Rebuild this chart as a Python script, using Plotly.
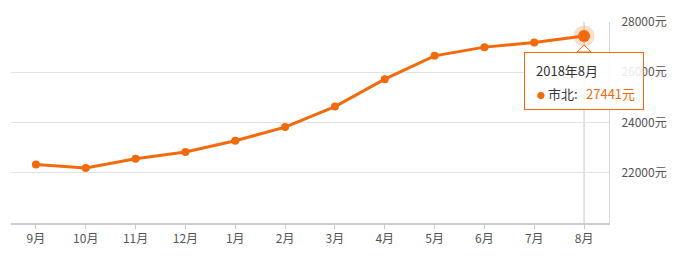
import plotly.graph_objects as go

months = ["9月", "10月", "11月", "12月", "1月", "2月", "3月", "4月", "5月", "6月", "7月", "8月"]
prices = [22330, 22187, 22557, 22823, 23272, 23817, 24633, 25725, 26653, 27000, 27183, 27441]
series_name = "市北"
tip_title = "2018年8月"
y_ticks = [22000, 24000, 26000, 28000]
y_ticktext = [f"{v}元" for v in y_ticks]

ORANGE = "#f26a0c"
FONT = "Noto Sans CJK SC"

fig = go.Figure()
fig.add_trace(go.Scatter(
    x=months, y=prices, mode="lines+markers",
    line=dict(color=ORANGE, width=3),
    marker=dict(color=ORANGE, size=8),
    hoverinfo="skip", showlegend=False, cliponaxis=False,
))
# highlighted last point (halo + big dot)
fig.add_trace(go.Scatter(
    x=[months[-1]], y=[prices[-1]], mode="markers",
    marker=dict(color="rgba(242,106,12,0.22)", size=21, line=dict(width=0)),
    hoverinfo="skip", showlegend=False, cliponaxis=False,
))
fig.add_trace(go.Scatter(
    x=[months[-1]], y=[prices[-1]], mode="markers",
    marker=dict(color=ORANGE, size=12, line=dict(width=0)),
    hoverinfo="skip", showlegend=False, cliponaxis=False,
))

# crosshair
fig.add_shape(type="line", xref="x", yref="paper", x0=months[-1], x1=months[-1],
              y0=0, y1=1, line=dict(color="#c8c8c8", width=1), layer="below")

# tooltip box
fig.add_annotation(
    x=months[-1], y=prices[-1], xref="x", yref="y", showarrow=False,
    text=" ", width=116, height=54, xanchor="center", yanchor="top",
    yshift=-16, bgcolor="rgba(255,255,255,0.88)", bordercolor=ORANGE, borderwidth=1, borderpad=1,
)
# notch
fig.add_shape(type="path", xref="x", yref="y", xsizemode="pixel", ysizemode="pixel",
              xanchor=months[-1], yanchor=prices[-1],
              path="M -7 -16 L 0 -9 L 7 -16 Z",
              fillcolor="white", line=dict(color=ORANGE, width=1))
fig.add_shape(type="path", xref="x", yref="y", xsizemode="pixel", ysizemode="pixel",
              xanchor=months[-1], yanchor=prices[-1],
              path="M -6 -16.8 L 6 -16.8 L 6 -18 L -6 -18 Z",
              fillcolor="white", line=dict(width=0))
fig.add_annotation(
    x=months[-1], y=prices[-1], xref="x", yref="y", showarrow=False,
    text=tip_title, xanchor="left", yanchor="middle", xshift=-50, yshift=-34,
    font=dict(family=FONT, size=13, color="#333333"),
)
fig.add_annotation(
    x=months[-1], y=prices[-1], xref="x", yref="y", showarrow=False,
    text=f"<span style='color:{ORANGE};font-size:8px'>●</span> {series_name}:",
    xanchor="left", yanchor="middle", xshift=-49, yshift=-57,
    font=dict(family=FONT, size=13, color="#333333"),
)
fig.add_annotation(
    x=months[-1], y=prices[-1], xref="x", yref="y", showarrow=False,
    text=f"{prices[-1]}元",
    xanchor="left", yanchor="middle", xshift=0, yshift=-57,
    font=dict(family=FONT, size=13, color=ORANGE),
)

fig.update_layout(
    width=690, height=259,
    margin=dict(l=11, r=81, t=22, b=36),
    paper_bgcolor="white", plot_bgcolor="white",
    font=dict(family=FONT, size=12, color="#555555"),
    hovermode=False,
    xaxis=dict(
        type="category", range=[-0.5, len(months) - 0.5],
        showgrid=False, showline=True, linecolor="#cccccc", linewidth=2,
        ticks="outside", ticklen=4, tickcolor="#cccccc", tickwidth=1,
        tickfont=dict(size=12, color="#555555"), zeroline=False,
        fixedrange=True,
    ),
    yaxis=dict(
        side="right", range=[20000, 28000],
        tickvals=y_ticks, ticktext=y_ticktext,
        showgrid=True, gridcolor="#e2e2e2", gridwidth=1,
        showline=True, linecolor="#d4d4d4", linewidth=1,
        ticks="", ticklabelstandoff=9,
        tickfont=dict(size=12, color="#555555"), zeroline=False,
        fixedrange=True,
    ),
)

fig.write_html("out.html")
